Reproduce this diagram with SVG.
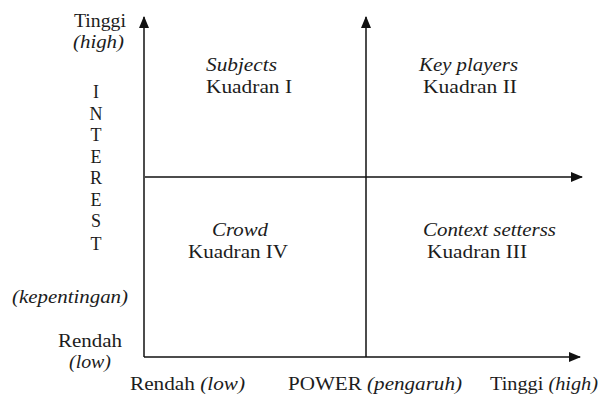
<svg xmlns="http://www.w3.org/2000/svg" width="601" height="396" viewBox="0 0 601 396">
<style>
  text { font-family: "Liberation Serif", "Times New Roman", serif; font-size: 18px; fill: #1c1c1c; }
  .i { font-style: italic; }
  .ax { stroke: #111; stroke-width: 1.5; fill: none; }
</style>
<defs>
  <marker id="ah" viewBox="0 0 12 10" refX="11" refY="5" markerWidth="12" markerHeight="10" markerUnits="userSpaceOnUse" orient="auto">
    <path d="M0,0 L12,5 L0,10 Z" fill="#111"/>
  </marker>
</defs>
<rect width="601" height="396" fill="#fff"/>
<g id="connectors">
  <line class="ax" x1="144" y1="357" x2="144" y2="17" marker-end="url(#ah)"/>
  <line class="ax" x1="144" y1="357" x2="580" y2="357" marker-end="url(#ah)"/>
  <line class="ax" x1="145" y1="177" x2="582" y2="177" marker-end="url(#ah)"/>
  <line class="ax" x1="366" y1="357" x2="366" y2="17" marker-end="url(#ah)"/>
</g>
<g id="y-axis-labels">
  <text x="74" y="27" textLength="52" lengthAdjust="spacingAndGlyphs">Tinggi</text>
  <text class="i" x="73" y="48" textLength="51" lengthAdjust="spacingAndGlyphs">(high)</text>
  <g text-anchor="middle">
    <text x="96" y="98">I</text>
    <text x="96" y="120">N</text>
    <text x="96" y="141">T</text>
    <text x="96" y="163">E</text>
    <text x="96" y="184">R</text>
    <text x="96" y="206">E</text>
    <text x="96" y="227">S</text>
    <text x="96" y="250">T</text>
  </g>
  <text class="i" x="12" y="303" textLength="116" lengthAdjust="spacingAndGlyphs">(kepentingan)</text>
  <text x="58" y="347" textLength="64" lengthAdjust="spacingAndGlyphs">Rendah</text>
  <text class="i" x="69" y="368" textLength="42" lengthAdjust="spacingAndGlyphs">(low)</text>
</g>
<g id="x-axis-labels">
  <text x="130" y="390" textLength="115" lengthAdjust="spacingAndGlyphs">Rendah <tspan class="i">(low)</tspan></text>
  <text x="288" y="390" textLength="174" lengthAdjust="spacingAndGlyphs">POWER <tspan class="i">(pengaruh)</tspan></text>
  <text x="490" y="390" textLength="108" lengthAdjust="spacingAndGlyphs">Tinggi <tspan class="i">(high)</tspan></text>
</g>
<g id="q1">
  <text class="i" x="206" y="71" textLength="71" lengthAdjust="spacingAndGlyphs">Subjects</text>
  <text x="206" y="93" textLength="86" lengthAdjust="spacingAndGlyphs">Kuadran I</text>
</g>
<g id="q2">
  <text class="i" x="419" y="71" textLength="99" lengthAdjust="spacingAndGlyphs">Key players</text>
  <text x="423" y="93" textLength="94" lengthAdjust="spacingAndGlyphs">Kuadran II</text>
</g>
<g id="q4">
  <text class="i" x="212" y="236" textLength="56" lengthAdjust="spacingAndGlyphs">Crowd</text>
  <text x="188" y="258" textLength="100" lengthAdjust="spacingAndGlyphs">Kuadran IV</text>
</g>
<g id="q3">
  <text class="i" x="423" y="236" textLength="133" lengthAdjust="spacingAndGlyphs">Context setterss</text>
  <text x="427" y="258" textLength="100" lengthAdjust="spacingAndGlyphs">Kuadran III</text>
</g>
</svg>
